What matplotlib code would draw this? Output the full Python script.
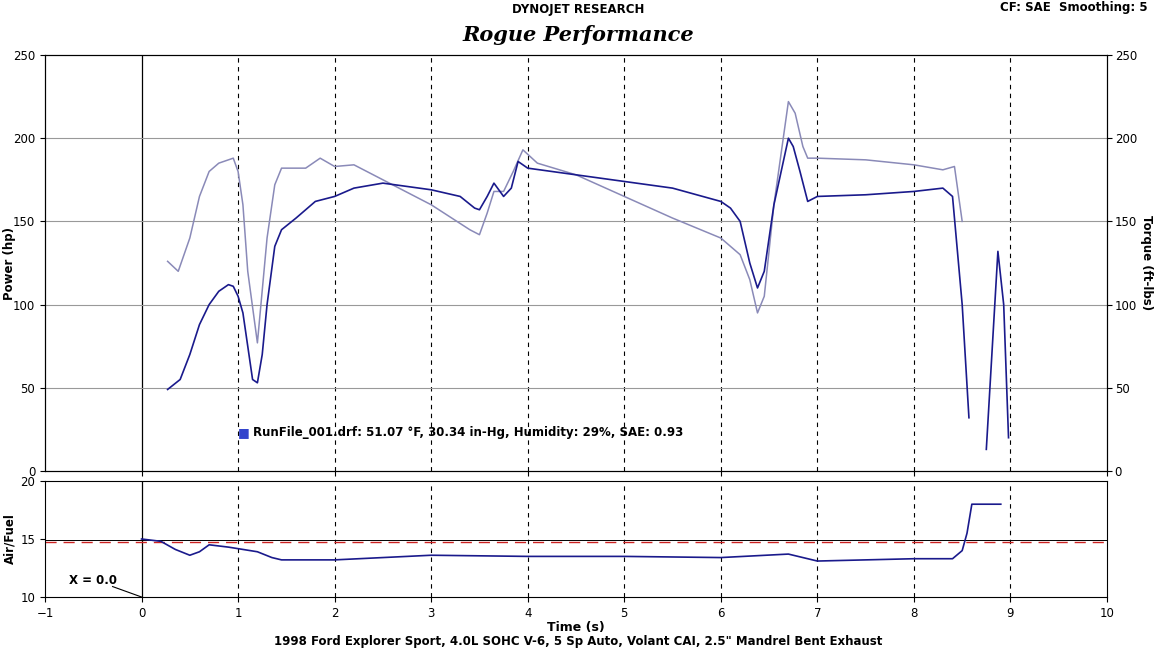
import matplotlib
matplotlib.use("Agg")
import matplotlib.pyplot as plt

t_pow = [0.27,0.4,0.5,0.6,0.7,0.8,0.9,0.95,1.0,1.05,1.1,1.15,1.2,1.25,1.3,1.38,1.45,1.6,1.8,2.0,2.2,2.5,3.0,3.3,3.45,3.5,3.58,3.65,3.75,3.83,3.9,4.0,4.5,5.0,5.5,6.0,6.1,6.2,6.3,6.38,6.45,6.55,6.7,6.75,6.82,6.9,7.0,7.5,8.0,8.3,8.4,8.5,8.57]
power = [49,55,70,88,100,108,112,111,105,95,75,55,53,70,100,135,145,152,162,165,170,173,169,165,158,157,165,173,165,170,186,182,178,174,170,162,158,150,125,110,120,160,200,195,180,162,165,166,168,170,165,100,32]
t_pow2 = [8.75,8.87,8.93,8.98]
power2 = [13,132,100,20]
t_tq = [0.27,0.38,0.5,0.6,0.7,0.8,0.95,1.0,1.05,1.1,1.2,1.3,1.38,1.45,1.7,1.85,2.0,2.2,2.5,3.0,3.4,3.5,3.58,3.65,3.75,3.85,3.95,4.1,4.5,5.0,5.5,6.0,6.2,6.3,6.38,6.45,6.55,6.7,6.77,6.85,6.9,7.0,7.5,8.0,8.3,8.42,8.5]
torque = [126,120,140,165,180,185,188,180,160,120,77,140,172,182,182,188,183,184,175,160,145,142,155,168,168,180,193,185,178,165,152,140,130,115,95,105,160,222,215,195,188,188,187,184,181,183,150]
t_afr = [0,0.2,0.35,0.5,0.6,0.7,0.9,1.2,1.35,1.45,2,3,4,5,6,6.7,6.85,7,8,8.4,8.5,8.55,8.6,8.9]
afr = [15.0,14.8,14.1,13.6,13.9,14.5,14.3,13.9,13.4,13.2,13.2,13.6,13.5,13.5,13.4,13.7,13.4,13.1,13.3,13.3,14.0,15.5,18.0,18.0]

W,H = 1156,649
fig = plt.figure(figsize=(W/100,H/100), dpi=100)
ax = fig.add_axes([45/W, 1-471/H, (1107-45)/W, (471-55)/H])
ax2 = fig.add_axes([45/W, 1-597/H, (1107-45)/W, (597-481)/H])
navy = "#1a1a8c"; light = "#8a8ab8"
for a in (ax, ax2):
    a.set_xlim(-1, 10)
    for x in range(1, 10):
        a.axvline(x, color="black", ls=(0,(4,4)), lw=0.8)
    a.axvline(0, color="black", lw=0.9)
    a.tick_params(labelsize=8.5)
ax.set_ylim(0, 250)
for y in range(50, 250, 50):
    ax.axhline(y, color="#999999", lw=0.8)
ax.plot(t_tq, torque, color=light, lw=1.1)
ax.plot(t_pow, power, color=navy, lw=1.2)
ax.plot(t_pow2, power2, color=navy, lw=1.2)
ax.set_xticklabels([])
ax.set_ylabel("Power (hp)", fontsize=8.5, fontweight="bold")
ax.yaxis.set_label_coords(-29/1062, 0.5)
axr = ax.twinx(); axr.set_ylim(0, 250)
axr.tick_params(labelsize=8.5, pad=2)
fig.text(1147/W, 1-263/H, "Torque (ft-lbs)", rotation=270, ha="center", va="center", fontsize=8.5, fontweight="bold")
ax.text(1.0, 23, "\u25a0", color="#3344cc", fontsize=9, va="center")
ax.text(1.15, 23, "RunFile_001.drf: 51.07 \u00b0F, 30.34 in-Hg, Humidity: 29%, SAE: 0.93", fontsize=8.5, fontweight="bold", va="center")
ax2.set_ylim(10, 20)
ax2.set_yticks([10, 15, 20])
ax2.set_xticks(range(-1, 11))
ax2.axhline(14.9, color="black", lw=0.7)
ax2.axhline(14.7, color="#cc2222", lw=1, ls=(0,(8,5)))
ax2.plot(t_afr, afr, color=navy, lw=1.2)
ax2.plot([-0.3, 0], [10.9, 10], color="black", lw=0.8)
ax2.text(-0.75, 11.1, "X = 0.0", fontsize=8.5, fontweight="bold")
ax2.set_ylabel("Air/Fuel", fontsize=8.5, fontweight="bold")
ax2.yaxis.set_label_coords(-29/1062, 0.5)
ax2.set_xlabel("Time (s)", fontsize=9, fontweight="bold", labelpad=1)
fig.text(0.5, 1-10/H, "DYNOJET RESEARCH", ha="center", va="center", fontsize=8.5, fontweight="bold")
fig.text(0.5, 1-35/H, "Rogue Performance", ha="center", va="center", fontsize=15, fontweight="bold", family="DejaVu Serif", style="italic")
fig.text(1-8/W, 1-8/H, "CF: SAE  Smoothing: 5", ha="right", va="center", fontsize=8.5, fontweight="bold")
fig.text(0.5, 1-642/H, "1998 Ford Explorer Sport, 4.0L SOHC V-6, 5 Sp Auto, Volant CAI, 2.5\" Mandrel Bent Exhaust", ha="center", va="center", fontsize=8.5, fontweight="bold")
fig.savefig("out.png", dpi=100)
